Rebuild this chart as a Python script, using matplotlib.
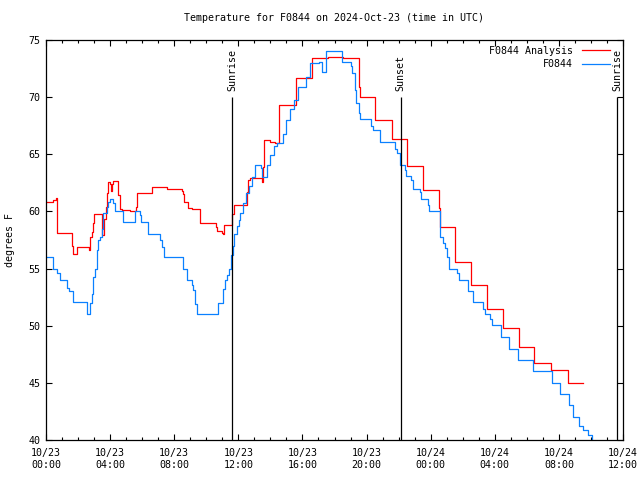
import matplotlib
matplotlib.use("Agg")
import matplotlib.pyplot as plt
from matplotlib.ticker import MultipleLocator, FixedLocator

# hours since 2024-10-23 00:00 UTC
analysis_t = [0, 0.46, 0.62, 0.67, 1.6, 1.66, 1.95, 2.7, 2.75, 2.85, 2.95, 3.0, 3.47, 3.64,
              3.74, 3.83, 3.87, 3.99, 4.05, 4.1, 4.2, 4.47, 4.51, 4.62, 4.72, 5.24, 5.61, 5.7,
              6.61, 7.57, 8.46, 8.53, 8.63, 8.88, 9.09, 9.61, 10.59, 10.65, 10.96, 11.06, 11.12,
              11.6, 11.7, 12.52, 12.6, 12.7, 13.45, 13.56, 13.62, 14.0, 14.3, 14.56, 15.6, 16.57,
              17.57, 18.55, 19.55, 19.62, 20.52, 21.56, 22.54, 23.54, 24.53, 24.58, 25.53, 26.53,
              27.53, 28.53, 29.53, 30.44, 31.48, 32.58, 33.48]
analysis_v = [60.8, 61.0, 61.2, 58.1, 57.0, 56.3, 56.9, 56.6, 57.8, 58.2, 59.0, 59.8, 57.9, 59.3,
              60.4, 61.6, 62.6, 62.4, 61.8, 62.4, 62.7, 62.5, 61.4, 60.2, 60.1, 60.0, 60.4, 61.6,
              62.1, 62.0, 61.8, 61.5, 60.8, 60.3, 60.2, 59.0, 58.6, 58.3, 58.1, 58.0, 58.8,
              59.8, 60.6, 61.7, 62.75, 62.9, 62.6, 63.9, 66.25, 66.1, 66.0, 69.3, 71.65, 73.4,
              73.5, 73.4, 70.9, 70.05, 68.0, 66.3, 63.97, 61.9, 60.3, 58.67, 55.6, 53.56,
              51.5, 49.77, 48.1, 46.7, 46.1, 44.96, 44.96]

obs_t = [0, 0.46, 0.7, 0.87, 1.29, 1.45, 1.7, 2.54, 2.75, 2.85, 2.95, 3.06, 3.16, 3.27, 3.37,
         3.47, 3.58, 3.79, 3.89, 3.99, 4.2, 4.3, 4.78, 5.55, 5.86, 5.93, 6.38, 7.11, 7.22, 7.36,
         8.53, 8.81, 9.09, 9.19, 9.3, 9.4, 10.75, 11.06, 11.17, 11.31, 11.44, 11.54, 11.64,
         11.75, 11.9, 12.04, 12.1, 12.3, 12.5, 12.65, 12.86, 13.07, 13.4, 13.48, 13.8, 14.0,
         14.2, 14.4, 14.8, 15.0, 15.2, 15.5, 15.7, 16.2, 16.5, 17.05, 17.2, 17.45, 17.5, 18.45,
         19.0, 19.1, 19.25, 19.35, 19.5, 19.6, 20.3, 20.4, 20.84, 21.75, 21.88, 22.08, 22.1,
         22.4, 22.46, 22.8, 22.87, 23.33, 23.39, 23.85, 23.91, 24.58, 24.75, 24.89, 25.03,
         25.16, 25.66, 25.76, 26.35, 26.62, 27.28, 27.39, 27.7, 27.85, 28.39, 28.9, 29.46,
         30.4, 31.55, 32.1, 32.63, 32.9, 33.25, 33.5, 33.83, 34.04]
obs_v = [56.0, 55.0, 54.6, 54.0, 53.3, 53.0, 52.05, 51.0, 52.0, 52.8, 54.3, 55.0, 56.6, 57.5, 57.8,
         58.5, 59.9, 60.4, 60.85, 61.05, 60.7, 60.0, 59.05, 60.0, 59.7, 59.05, 58.0, 57.5, 56.9, 56.0,
         55.0, 54.0, 53.6, 53.1, 51.9, 51.0, 52.0, 53.2, 54.0, 54.4, 55.0, 56.2, 57.0,
         58.0, 58.7, 59.25, 59.85, 60.7, 61.6, 62.2, 63.0, 64.05, 63.8, 63.0, 64.05, 64.9,
         65.7, 66.0, 66.8, 68.0, 69.0, 69.75, 70.9, 71.8, 72.95, 73.1, 72.2, 73.55, 74.05, 73.1,
         72.7, 72.1, 70.6, 69.5, 68.6, 68.05, 67.5, 67.1, 66.1, 65.5, 65.1, 64.65, 64.06,
         63.6, 63.1, 62.75, 62.0, 61.7, 61.05, 60.56, 60.0, 57.8, 57.2, 56.8, 56.0,
         55.0, 54.6, 54.0, 53.0, 52.1, 51.5, 51.0, 50.6, 50.06, 49.04, 48.0, 47.0,
         46.07, 45.0, 44.0, 43.06, 42.0, 41.2, 40.9, 40.4, 39.9]

sun_t = [11.62, 22.13, 35.62]
sun_labels = ["Sunrise", "Sunset", "Sunrise"]

xtick_hours = [0, 4, 8, 12, 16, 20, 24, 28, 32, 36]
xtick_labels = ["10/23\n00:00", "10/23\n04:00", "10/23\n08:00", "10/23\n12:00", "10/23\n16:00",
                "10/23\n20:00", "10/24\n00:00", "10/24\n04:00", "10/24\n08:00", "10/24\n12:00"]

FONT = "DejaVu Sans Mono"
FS = 7.2
plt.rcParams['font.family'] = FONT

fig = plt.figure(figsize=(6.4, 4.8), dpi=100)
ax = fig.add_axes([46/640, 40/480, 577/640, 400/480])

ax.plot(analysis_t, analysis_v, drawstyle='steps-post', color='#ff0000', lw=0.9,
        label='F0844 Analysis')
ax.plot(obs_t, obs_v, drawstyle='steps-post', color='#0a80ff', lw=0.9, label='F0844')

ax.vlines(sun_t, 40, 70, color='black', lw=0.9)
for t, lab in zip(sun_t, sun_labels):
    ax.text(t, 70.5, lab, rotation=90, ha='center', va='bottom', fontsize=FS, family=FONT)

ax.set_xlim(0, 36)
ax.set_ylim(40, 75)
ax.xaxis.set_major_locator(FixedLocator(xtick_hours))
ax.set_xticklabels(xtick_labels)
ax.xaxis.set_minor_locator(MultipleLocator(1))
ax.yaxis.set_major_locator(MultipleLocator(5))
ax.tick_params(which='both', direction='in', top=True, right=True, labelsize=FS, width=0.8)
ax.tick_params(which='major', length=4)
ax.tick_params(which='minor', length=2)
ax.tick_params(axis='x', pad=6)
ax.tick_params(axis='y', pad=4)
for s in ax.spines.values():
    s.set_linewidth(0.9)

ax.set_ylabel('degrees F', fontsize=FS, labelpad=10)
ax.set_title('Temperature for F0844 on 2024-Oct-23 (time in UTC)', fontsize=FS, pad=14)

ax.legend(loc='upper right', bbox_to_anchor=(1 - 8/577, 1 - 1/400), markerfirst=False,
          frameon=False, fontsize=FS, handlelength=2.8, handletextpad=0.9,
          borderaxespad=0.2, borderpad=0.3, labelspacing=0.35)

fig.savefig('out.png', dpi=100)
